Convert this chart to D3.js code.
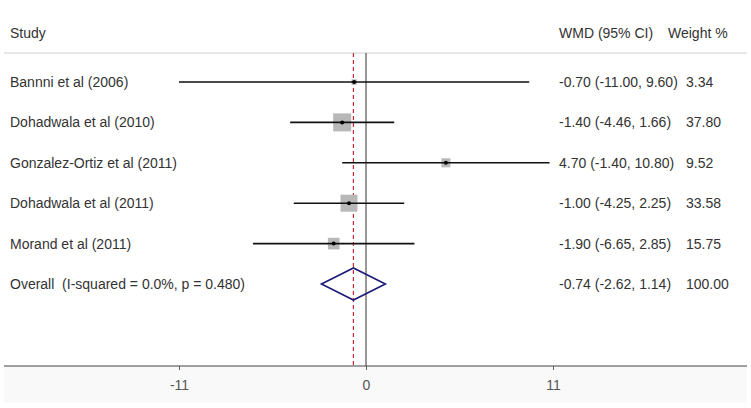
<!DOCTYPE html>
<html><head><meta charset="utf-8">
<script src="https://cdn.jsdelivr.net/npm/d3@7"></script>
<style>
html,body{margin:0;padding:0;background:#fff;}
svg{display:block;font-family:"Liberation Sans",Arial,sans-serif;}
text{white-space:pre;}
</style></head>
<body><div id="chart"></div>
<script>
const studies = ["Bannni et al (2006)","Dohadwala et al (2010)","Gonzalez-Ortiz et al (2011)","Dohadwala et al (2011)","Morand et al (2011)"];
const estimates = [-0.70,-1.40,4.70,-1.00,-1.90];
const lower = [-11.00,-4.46,-1.40,-4.25,-6.65];
const upper = [9.60,1.66,10.80,2.25,2.85];
const weights = [3.34,37.80,9.52,33.58,15.75];
const overallLabel = "Overall  (I-squared = 0.0%, p = 0.480)";
const overall = {est:-0.74, lo:-2.62, hi:1.14, w:100.00};
const xTicks = [-11,0,11];

(function(){
const W=751,H=408;
const svg=d3.select("#chart").append("svg").attr("width",W).attr("height",H);
const x=d3.scaleLinear().domain([-11,11]).range([179,553]);
const rows=studies.concat([overallLabel]);
const y=d3.scalePoint().domain(d3.range(rows.length)).range([82,284]);
const f2=v=>d3.format(".2f")(v).replace("\u2212","-");
const fi=v=>d3.format("d")(v).replace("\u2212","-");
const txt="#333";
const fs=14;
const topY=53, axisY=366;
const ciX=559, wX=686;

// bottom band
svg.append("rect").attr("x",4).attr("y",axisY).attr("width",743).attr("height",37).attr("fill","#faf9f9");

// header
svg.append("text").attr("x",10).attr("y",38).attr("font-size",fs).attr("fill",txt).text("Study");
svg.append("text").attr("x",ciX).attr("y",38).attr("font-size",fs).attr("fill",txt).text("WMD (95% CI)");
svg.append("text").attr("x",668).attr("y",38).attr("font-size",fs).attr("fill",txt).text("Weight %");
svg.append("line").attr("x1",4).attr("x2",747).attr("y1",topY).attr("y2",topY).attr("stroke","#d0d0d0").attr("stroke-width",1);

// null line
svg.append("line").attr("x1",x(0)).attr("x2",x(0)).attr("y1",topY).attr("y2",axisY).attr("stroke","#333").attr("stroke-width",1);
// overall dashed line
svg.append("line").attr("x1",x(overall.est)).attr("x2",x(overall.est)).attr("y1",topY).attr("y2",axisY)
  .attr("stroke","#c8283c").attr("stroke-width",1.2).attr("stroke-dasharray","4,3");

// axis
const axis=d3.axisBottom(x).tickValues(xTicks).tickSize(4).tickPadding(10).tickFormat(fi);
const ax=svg.append("g").attr("transform",`translate(0,${axisY})`).call(axis);
ax.select(".domain").remove();
ax.selectAll(".tick line").attr("stroke","#666");
ax.selectAll(".tick text").attr("font-size",14).attr("fill","#555").attr("font-family","Liberation Sans, Arial, sans-serif");
svg.append("line").attr("x1",4).attr("x2",747).attr("y1",axisY).attr("y2",axisY).attr("stroke","#444").attr("stroke-width",1.2);

// rows
const g=svg.append("g");
studies.forEach((s,i)=>{
  const cy=y(i);
  g.append("text").attr("x",10).attr("y",cy+5).attr("font-size",fs).attr("fill",txt).text(s);
  const side=2.93*Math.sqrt(weights[i]);
  g.append("rect").attr("x",x(estimates[i])-side/2).attr("y",cy-side/2).attr("width",side).attr("height",side).attr("fill","#b8b8b8");
  g.append("line").attr("x1",x(lower[i])).attr("x2",x(upper[i])).attr("y1",cy).attr("y2",cy).attr("stroke","#111").attr("stroke-width",1.6);
  g.append("circle").attr("cx",x(estimates[i])).attr("cy",cy).attr("r",2).attr("fill","#000");
  g.append("text").attr("x",ciX).attr("y",cy+5).attr("font-size",fs).attr("fill",txt)
    .text(`${f2(estimates[i])} (${f2(lower[i])}, ${f2(upper[i])})`);
  g.append("text").attr("x",wX).attr("y",cy+5).attr("font-size",fs).attr("fill",txt).text(f2(weights[i]));
});
const oy=y(rows.length-1);
g.append("text").attr("x",10).attr("y",oy+5).attr("font-size",fs).attr("fill",txt).text(overallLabel);
g.append("path").attr("d",`M${x(overall.lo)},${oy}L${x(overall.est)},${oy-16}L${x(overall.hi)},${oy}L${x(overall.est)},${oy+16}Z`)
  .attr("fill","none").attr("stroke","#1c1c78").attr("stroke-width",1.6);
g.append("text").attr("x",ciX).attr("y",oy+5).attr("font-size",fs).attr("fill",txt)
  .text(`${f2(overall.est)} (${f2(overall.lo)}, ${f2(overall.hi)})`);
g.append("text").attr("x",wX).attr("y",oy+5).attr("font-size",fs).attr("fill",txt).text(f2(overall.w));
})();
</script></body></html>
